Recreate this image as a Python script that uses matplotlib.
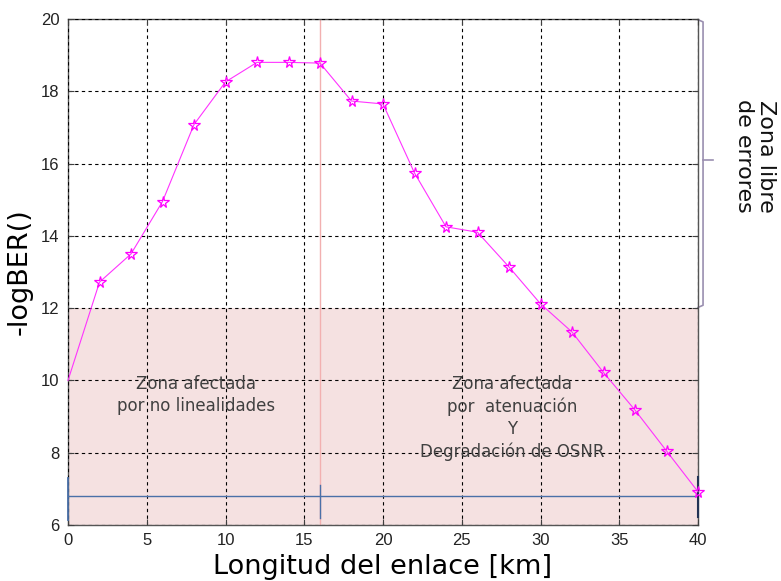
import matplotlib
matplotlib.use("Agg")
import matplotlib.pyplot as plt
from matplotlib.transforms import blended_transform_factory

# Data
longitud_km = [0, 2, 4, 6, 8, 10, 12, 14, 16, 18, 20, 22, 24, 26, 28, 30, 32, 34, 36, 38, 40]
neg_log_ber = [10.0, 12.72, 13.5, 14.95, 17.08, 18.26, 18.8, 18.8, 18.78, 17.73, 17.65,
               15.74, 14.25, 14.1, 13.14, 12.12, 11.34, 10.22, 9.18, 8.05, 6.92]
x_ticks = [0, 5, 10, 15, 20, 25, 30, 35, 40]
y_ticks = [6, 8, 10, 12, 14, 16, 18, 20]
umbral_errores = 12
x_frontera = 16
y_barra = 6.8
barra_marcas = [0, 16, 40]

fig = plt.figure(figsize=(7.81, 5.81), dpi=100)
ax = fig.add_axes([68/781, 1-525/581, 630/781, 506/581])

ax.set_xlim(0, 40)
ax.set_ylim(6, 20)

# shaded error zone
ax.axhspan(6, umbral_errores, color="#f5e1e1", zorder=0, lw=0)

ax.grid(True, color="black", linestyle=(0, (3, 3)), linewidth=0.8, zorder=1)
ax.set_axisbelow(False)

# frontier line
ax.axvline(x_frontera, color="#f2b0b0", lw=1.0, zorder=2)

# blue bar
ax.plot([barra_marcas[0], barra_marcas[-1]], [y_barra, y_barra], color="#4a70a8", lw=1.0, zorder=3)
ax.plot([0, 0], [6.15, 7.3], color="#4a70a8", lw=1.3, zorder=3, clip_on=False)
ax.plot([16, 16], [6.2, 7.1], color="#4a70a8", lw=1.0, zorder=3)
ax.plot([40, 40], [6.22, 7.33], color="#223355", lw=1.5, zorder=3, clip_on=False)

# main curve
ax.plot(longitud_km, neg_log_ber, color="#ff33ff", lw=0.8, zorder=4, clip_on=False)
ax.plot(longitud_km[1:], neg_log_ber[1:], linestyle="none", marker="*", ms=8.5,
        markerfacecolor="none", markeredgecolor="#ff00ff", markeredgewidth=0.9, zorder=4,
        clip_on=False)

ax.set_xticks(x_ticks)
ax.set_yticks(y_ticks)
ax.tick_params(direction="in", length=4, top=True, right=True, width=0.8, color="#404040",
               labelsize=12, pad=6)
for lab in ax.get_xticklabels() + ax.get_yticklabels():
    lab.set_fontfamily("Liberation Sans")
    lab.set_color("#222222")
for s in ax.spines.values():
    s.set_color("#555555")
    s.set_linewidth(1.0)

ax.set_xlabel("Longitud del enlace [km]", fontsize=19.5, family="DejaVu Sans", labelpad=4)
ax.set_ylabel("-logBER()", fontsize=19.5, family="DejaVu Sans", labelpad=6)

# annotations
ax.text(8.1, 9.6, "Zona afectada\npor no linealidades", ha="center", va="center",
        fontsize=12, color="#404040", linespacing=1.3, family="DejaVu Sans")
ax.text(28.2, 8.96, "Zona afectada\npor  atenuación\nY\nDegradación de OSNR", ha="center",
        va="center", fontsize=12, color="#404040", linespacing=1.3, family="DejaVu Sans")

# bracket on the right
tr = blended_transform_factory(ax.transAxes, ax.transData)
bc = "#9a8fb0"
ax.plot([1.0, 1.008, 1.008, 1.0], [19.98, 19.92, 12.08, 12.02], color=bc, lw=1.2,
        transform=tr, clip_on=False)
ax.plot([1.008, 1.024], [16.1, 16.1], color=bc, lw=1.2, transform=tr, clip_on=False)
ax.text(1.09, 16.2, "Zona libre\nde errores", rotation=-90, ha="center", va="center",
        fontsize=16, color="#111111", transform=tr, linespacing=1.15, family="DejaVu Sans")

fig.savefig("out.png", dpi=100)
